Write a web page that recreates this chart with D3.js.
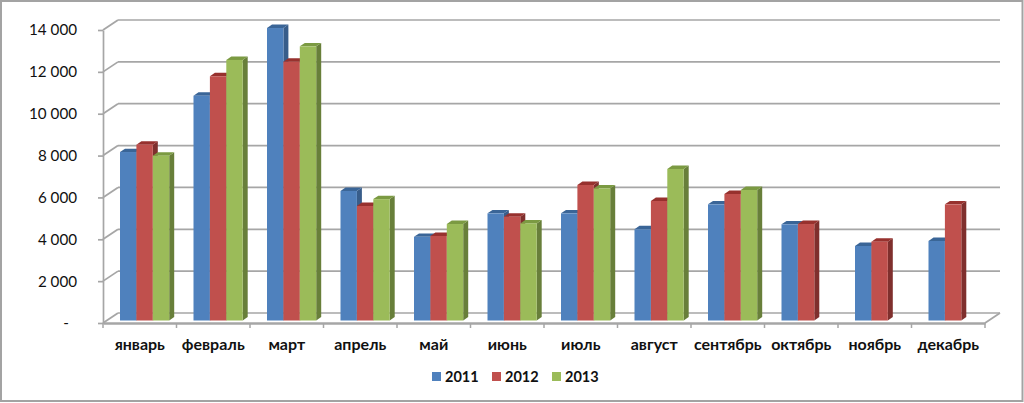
<!DOCTYPE html>
<html lang="ru">
<head>
<meta charset="utf-8">
<title>Chart</title>
<script src="https://cdn.jsdelivr.net/npm/d3@7"></script>
<style>
  html, body { margin: 0; padding: 0; background: #fff; }
  svg { display: block; }
  text { font-family: Lato, "Open Sans", sans-serif; fill: #111; }
  .y-axis text { font-size: 15.2px; }
  .x-axis text { font-size: 16px; font-weight: 700; }
  .legend text { font-size: 14.5px; font-weight: 700; }
</style>
</head>
<body>
<svg id="chart" width="1024" height="403"></svg>
<script>
// ===== Data =====
const months = ["январь","февраль","март","апрель","май","июнь","июль","август","сентябрь","октябрь","ноябрь","декабрь"];
const years = ["2011","2012","2013"];
const values2011 = [8050,10740,13975,6190,4000,5120,5120,4360,5550,4595,3560,3800];
const values2012 = [8400,11670,12365,5470,4040,4960,6475,5710,6045,4610,3765,5550];
const values2013 = [7875,12450,13100,5800,4610,4640,6315,7240,6235,null,null,null];
const yTicks = [0,2000,4000,6000,8000,10000,12000,14000];

// ===== Config =====
const WIDTH = 1024, HEIGHT = 403;
const AX = { left: 103, right: 985, top: 30, bottom: 323 };
const WALL = { dx: 15, dy: -10 };    // depth of the back wall
const BAR = { dx: 5, dy: -3.4, inX: 0, inY: -2.5 };  // bar depth, and floor inset
const GRID = "#a6a6a6";

const colors = {
  "2011": { front: "#4f81bd", side: "#385d8a", top: "#3a6597" },
  "2012": { front: "#c0504d", side: "#7f2f2d", top: "#97312e" },
  "2013": { front: "#9bbb59", side: "#687f3a", top: "#7b9a42" }
};

const series = [values2011, values2012, values2013];
const fmtTick = d => d === 0 ? "-" : d3.format(",")(d).replace(",", "\u00a0");

const svg = d3.select("#chart");

// chart frame
svg.append("rect")
  .attr("x", 1).attr("y", 1)
  .attr("width", WIDTH - 2.5).attr("height", HEIGHT - 3)
  .attr("fill", "#fff").attr("stroke", "#a3a3a3").attr("stroke-width", 2);

// ===== Scales =====
const x = d3.scaleBand().domain(months).range([AX.left, AX.right]).paddingInner(0).paddingOuter(0);
const y = d3.scaleLinear().domain([0, 14000]).range([AX.bottom, AX.top]);
const barW = 16.4;
const xOff = d3.scaleBand().domain(years)
  .range([17, 17 + barW * 3]);

// ===== Walls =====
const walls = svg.append("g").attr("fill", "none").attr("stroke", GRID).attr("stroke-width", 1.7);

walls.selectAll("line.grid").data(yTicks).join("line")
  .attr("class", "grid")
  .attr("x1", AX.left + WALL.dx).attr("x2", AX.right + WALL.dx)
  .attr("y1", d => y(d) + WALL.dy).attr("y2", d => y(d) + WALL.dy);

walls.selectAll("line.diag").data(yTicks).join("line")
  .attr("class", "diag")
  .attr("x1", AX.left).attr("x2", AX.left + WALL.dx)
  .attr("y1", d => y(d)).attr("y2", d => y(d) + WALL.dy);

walls.append("line")
  .attr("x1", AX.right).attr("x2", AX.right + WALL.dx)
  .attr("y1", y(0)).attr("y2", y(0) + WALL.dy);

// ===== Bars =====
const rows = months.flatMap((m, i) => years.map((yr, j) => ({ m, yr, v: series[j][i] })))
  .filter(d => d.v != null);

const base = y(0) + BAR.inY;
const barH = d => y(0) - y(d.v);
const bars = svg.append("g").selectAll("g.bar").data(rows).join("g").attr("class", "bar");
const bx = d => x(d.m) + xOff(d.yr);
const pts = a => a.map(p => p.join(",")).join(" ");

bars.append("polygon")
  .attr("fill", d => colors[d.yr].side)
  .attr("points", d => {
    const r = bx(d) + barW, t = base - barH(d);
    return pts([[r, t], [r + BAR.dx, t + BAR.dy], [r + BAR.dx, base + BAR.dy], [r, base]]);
  });

bars.append("polygon")
  .attr("fill", d => colors[d.yr].top)
  .attr("points", d => {
    const l = bx(d), t = base - barH(d);
    return pts([[l, t], [l + BAR.dx, t + BAR.dy], [l + barW + BAR.dx, t + BAR.dy], [l + barW, t]]);
  });

bars.append("rect")
  .attr("fill", d => colors[d.yr].front)
  .attr("x", bx).attr("y", d => base - barH(d))
  .attr("width", barW).attr("height", barH);

// ===== Axes =====
const yAxis = svg.append("g").attr("class", "y-axis")
  .attr("transform", `translate(${AX.left},0)`)
  .call(d3.axisLeft(y).tickValues(yTicks).tickFormat(fmtTick).tickSize(5).tickSizeOuter(0).tickPadding(21));
yAxis.selectAll("line, path").attr("stroke", GRID).attr("stroke-width", 1.7);
yAxis.selectAll("text").attr("dx", d => d === 0 ? -8 : 0);

const xEdges = d3.range(months.length + 1).map(i => AX.left + i * x.step());
const xAxis = svg.append("g").attr("class", "x-axis")
  .attr("transform", `translate(0,${AX.bottom})`)
  .call(d3.axisBottom(x).tickSize(0).tickPadding(16));
xAxis.select("path").attr("stroke", GRID).attr("stroke-width", 2.5);
xAxis.selectAll("line.edge").data(xEdges).join("line")
  .attr("class", "edge")
  .attr("x1", d => d).attr("x2", d => d).attr("y1", 0).attr("y2", 5)
  .attr("stroke", GRID).attr("stroke-width", 1.5);

// ===== Legend =====
const legendX = d3.scalePoint().domain(years).range([432, 552]);
const legend = svg.append("g").attr("class", "legend");
const items = legend.selectAll("g").data(years).join("g")
  .attr("transform", d => `translate(${legendX(d)},372)`);
items.append("rect").attr("width", 9).attr("height", 9).attr("fill", d => colors[d].front);
items.append("text").attr("x", 13).attr("y", 10).text(d => d);
</script>
</body>
</html>
